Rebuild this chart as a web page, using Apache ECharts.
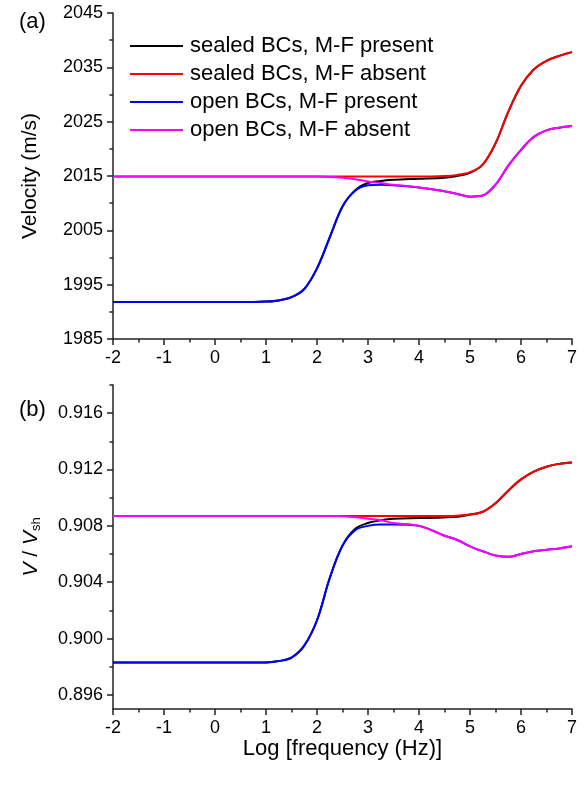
<!DOCTYPE html>
<html>
<head>
<meta charset="utf-8">
<script src="https://cdn.jsdelivr.net/npm/echarts@6/dist/echarts.min.js"></script>
<style>
html, body { margin: 0; padding: 0; background: #fff; }
#chart { width: 585px; height: 785px; }
</style>
</head>
<body>
<div id="chart"></div>
<script>
// log10 of frequency (Hz)
const logFreq = [-2, -1, 0, 0.5, 1, 1.25, 1.5, 1.75, 2, 2.25, 2.5, 2.75, 3, 3.25, 3.5, 4, 4.5, 4.75, 5, 5.25, 5.5, 5.75, 6, 6.25, 6.5, 6.75, 7];

// (a) phase velocity, m/s
const velSealedPresent = [1991.8, 1991.8, 1991.8, 1991.8, 1991.9, 1992.1, 1992.7, 1994.2, 1998.0, 2003.7, 2009.4, 2012.4, 2013.7, 2014.1, 2014.3, 2014.5, 2014.7, 2015.0, 2015.6, 2017.1, 2021.0, 2026.8, 2031.6, 2034.6, 2036.2, 2037.1, 2037.8];
const velSealedAbsent  = [2014.9, 2014.9, 2014.9, 2014.9, 2014.9, 2014.9, 2014.9, 2014.9, 2014.9, 2014.9, 2014.9, 2014.9, 2014.9, 2014.9, 2014.9, 2014.9, 2015.0, 2015.2, 2015.7, 2017.1, 2021.0, 2026.8, 2031.6, 2034.6, 2036.2, 2037.1, 2037.8];
const velOpenPresent   = [1991.8, 1991.8, 1991.8, 1991.8, 1991.9, 1992.1, 1992.7, 1994.2, 1998.0, 2003.7, 2009.4, 2012.3, 2013.3, 2013.4, 2013.3, 2012.9, 2012.2, 2011.7, 2011.2, 2011.4, 2013.4, 2016.9, 2019.8, 2022.2, 2023.4, 2023.9, 2024.2];
const velOpenAbsent    = [2014.9, 2014.9, 2014.9, 2014.9, 2014.9, 2014.9, 2014.9, 2014.9, 2014.9, 2014.8, 2014.7, 2014.4, 2014.0, 2013.7, 2013.4, 2012.9, 2012.2, 2011.7, 2011.2, 2011.4, 2013.4, 2016.9, 2019.8, 2022.2, 2023.4, 2023.9, 2024.2];

// (b) velocity normalised by shear velocity
const ratioSealedPresent = [0.8983, 0.8983, 0.8983, 0.8983, 0.8983, 0.8984, 0.89865, 0.8995, 0.9013, 0.9043, 0.9066, 0.9078, 0.9082, 0.9084, 0.9085, 0.90855, 0.9086, 0.90865, 0.9088, 0.9090, 0.9096, 0.9105, 0.9113, 0.91185, 0.9122, 0.9124, 0.9125];
const ratioSealedAbsent  = [0.9087, 0.9087, 0.9087, 0.9087, 0.9087, 0.9087, 0.9087, 0.9087, 0.9087, 0.9087, 0.9087, 0.9087, 0.9087, 0.9087, 0.9087, 0.9087, 0.9087, 0.90872, 0.9088, 0.9090, 0.9096, 0.9105, 0.9113, 0.91185, 0.9122, 0.9124, 0.9125];
const ratioOpenPresent   = [0.8983, 0.8983, 0.8983, 0.8983, 0.8983, 0.8984, 0.89865, 0.8995, 0.9013, 0.9043, 0.9066, 0.9077, 0.9080, 0.9081, 0.9081, 0.9080, 0.9073, 0.9070, 0.90655, 0.9062, 0.9059, 0.9058, 0.9060, 0.9062, 0.9063, 0.9064, 0.90655];
const ratioOpenAbsent    = [0.9087, 0.9087, 0.9087, 0.9087, 0.9087, 0.9087, 0.9087, 0.9087, 0.9087, 0.9087, 0.90868, 0.90862, 0.9085, 0.9084, 0.9082, 0.9080, 0.9073, 0.9070, 0.90655, 0.9062, 0.9059, 0.9058, 0.9060, 0.9062, 0.9063, 0.9064, 0.90655];

const seriesNames = ['sealed BCs, M-F present', 'sealed BCs, M-F absent', 'open BCs, M-F present', 'open BCs, M-F absent'];
const seriesColors = ['#000000', '#ff0000', '#0000ff', '#ff00ff'];

const ratioLabelTicks = [0.896, 0.900, 0.904, 0.908, 0.912, 0.916];
const ratioMinorTicks = [0.898, 0.902, 0.906, 0.910, 0.914, 0.918];

const FONT = 'Liberation Sans, Arial, sans-serif';
const axisColor = '#222';

function pairs(ys) { return logFreq.map((x, i) => [x, ys[i]]); }

function lineSeries(idx, ys, panel) {
  return {
    type: 'line',
    name: seriesNames[idx],
    xAxisIndex: panel,
    yAxisIndex: panel,
    data: pairs(ys),
    smooth: 0.35,
    symbol: 'none',
    lineStyle: { color: seriesColors[idx], width: 2 },
    itemStyle: { color: seriesColors[idx] },
    z: 2 + idx
  };
}

const baseAxis = {
  axisLine: { show: true, onZero: false, lineStyle: { color: axisColor, width: 1.5 } },
  axisTick: { show: true, inside: false, length: 6, lineStyle: { color: axisColor, width: 1.5 } },
  minorTick: { show: true, splitNumber: 2, length: 3.5, lineStyle: { color: axisColor, width: 1.5 } },
  splitLine: { show: false },
  minorSplitLine: { show: false },
  axisLabel: { color: '#000', fontSize: 18, fontFamily: FONT }
};

const chart = echarts.init(document.getElementById('chart'), null, { renderer: 'canvas' });

chart.setOption({
  animation: false,
  backgroundColor: '#fff',
  title: [
    { text: '(a)', left: 14, top: 6, textStyle: { fontSize: 22, fontWeight: 'normal', color: '#000', fontFamily: FONT } },
    { text: '(b)', left: 14, top: 394, textStyle: { fontSize: 22, fontWeight: 'normal', color: '#000', fontFamily: FONT } }
  ],
  legend: {
    data: seriesNames.map((n, i) => ({ name: n, icon: 'rect', itemStyle: { color: seriesColors[i] } })),
    orient: 'vertical',
    left: 130,
    top: 35,
    padding: 0,
    itemWidth: 53,
    itemHeight: 2,
    itemGap: 6,
    textStyle: { fontSize: 22, color: '#000', fontFamily: FONT, lineHeight: 22, padding: [0, 0, 0, 2] }
  },
  grid: [
    { left: 113, right: 13, top: 13, height: 326 },
    { left: 113, right: 13, top: 385, height: 324 }
  ],
  xAxis: [
    Object.assign({}, baseAxis, {
      type: 'value', gridIndex: 0, min: -2, max: 7, interval: 1,
      axisLabel: Object.assign({}, baseAxis.axisLabel, { margin: 10 })
    }),
    Object.assign({}, baseAxis, {
      type: 'value', gridIndex: 1, min: -2, max: 7, interval: 1,
      axisLabel: Object.assign({}, baseAxis.axisLabel, { margin: 10 }),
      name: 'Log [frequency (Hz)]',
      nameLocation: 'middle',
      nameGap: 23,
      nameTextStyle: { fontSize: 22, color: '#000', fontFamily: FONT }
    })
  ],
  yAxis: [
    Object.assign({}, baseAxis, {
      type: 'value', gridIndex: 0, min: 1985, max: 2045, interval: 10,
      axisLabel: Object.assign({}, baseAxis.axisLabel, { margin: 10, formatter: v => String(v) }),
      name: 'Velocity (m/s)',
      nameLocation: 'middle',
      nameRotate: 90,
      nameGap: 72,
      nameTextStyle: { fontSize: 21, color: '#000', fontFamily: FONT }
    }),
    Object.assign({}, baseAxis, {
      type: 'value', gridIndex: 1, min: 0.895, max: 0.918,
      minorTick: { show: false },
      axisTick: { show: true, length: 6, customValues: ratioLabelTicks, lineStyle: { color: axisColor, width: 1.5 } },
      axisLabel: Object.assign({}, baseAxis.axisLabel, {
        margin: 10,
        customValues: ratioLabelTicks,
        formatter: v => v.toFixed(3)
      }),
      name: '{i|V} / {i|V}{s|sh}',
      nameLocation: 'middle',
      nameRotate: 90,
      nameGap: 70,
      nameTextStyle: {
        fontSize: 21, color: '#000', fontFamily: FONT,
        rich: {
          i: { fontSize: 21, fontStyle: 'italic', fontFamily: FONT, color: '#000' },
          s: { fontSize: 13, fontFamily: FONT, color: '#000', padding: [10, 0, 0, 0] }
        }
      }
    }),
    {
      // minor ticks of the ratio axis
      type: 'value', gridIndex: 1, min: 0.895, max: 0.918, position: 'left',
      axisLine: { show: false, onZero: false },
      axisLabel: { show: false },
      splitLine: { show: false },
      axisTick: { show: true, length: 3.5, customValues: ratioMinorTicks, lineStyle: { color: axisColor, width: 1.5 } }
    }
  ],
  series: [
    lineSeries(0, velSealedPresent, 0),
    lineSeries(1, velSealedAbsent, 0),
    lineSeries(2, velOpenPresent, 0),
    lineSeries(3, velOpenAbsent, 0),
    lineSeries(0, ratioSealedPresent, 1),
    lineSeries(1, ratioSealedAbsent, 1),
    lineSeries(2, ratioOpenPresent, 1),
    lineSeries(3, ratioOpenAbsent, 1)
  ]
});
</script>
</body>
</html>
